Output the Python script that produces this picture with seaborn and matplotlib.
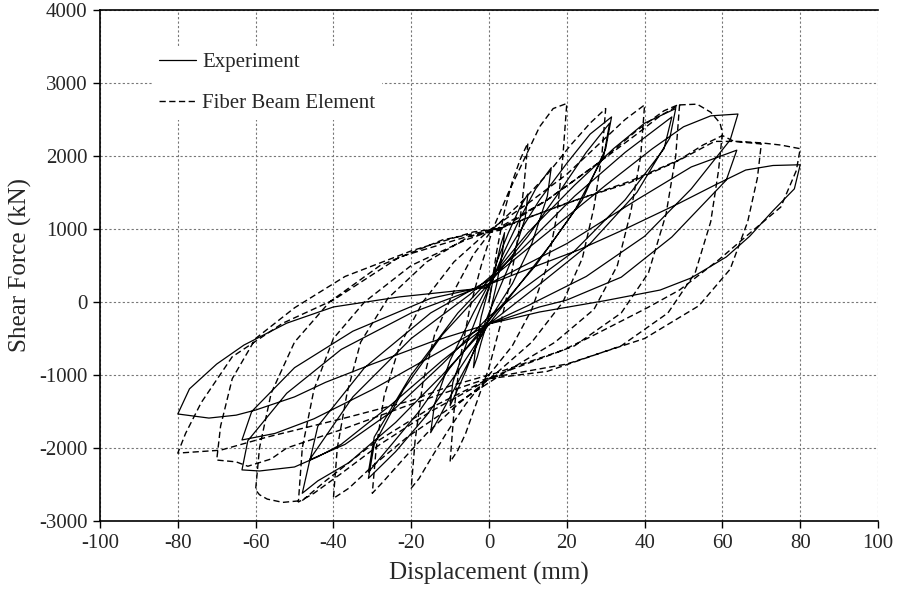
import matplotlib
matplotlib.use("Agg")
import matplotlib.pyplot as plt
import seaborn as sns
import numpy as np

# ---------------- data ----------------
exp_disp = [0, 1, 2, 3, 4,
            3.5, 2, 0, -2, -3, -4,
            -3.5, -2, 0, 2, 5, 8, 10,
            9.3, 6, 2, 0, -3, -6, -8.5, -10,
            -9.3, -6, -2, 0, 4, 8, 12, 16,
            15, 11, 6, 0, -5, -10, -13, -15,
            -14, -10, -4, 0, 6, 13, 20, 26, 31.5,
            30, 24, 16, 8, 0, -8, -16, -24, -31,
            -29.5, -22, -12, 0, 10, 18, 25, 31,
            29.5, 22, 12, 0, -10, -18, -25, -31,
            -29.5, -20, -8, 0, 10, 22, 32, 40, 48,
            46.5, 38, 26, 12, 0, -12, -24, -36, -44, -48,
            -46, -35, -20, -5, 8, 22, 35, 47,
            45, 35, 22, 8, 0, -12, -25, -37, -46,
            -44, -32, -15, 0, 15, 30, 42, 50, 57, 64,
            62, 52, 40, 25, 10, 0, -12, -25, -38, -44, -50, -59, -63.5,
            -62, -52, -38, -20, 0, 20, 38, 52, 63.7,
            61, 47, 34, 20, 13, 0, -15, -30, -45, -55, -63.5,
            -61, -50, -35, -15, -2, 10, 23, 35, 49, 58, 66, 73, 80,
            78.5, 73, 67, 61, 52, 44, 30, 13, 0, -15, -30, -42, -50, -60, -65, -72, -80,
            -77, -70, -63, -52, -40, -23, -6, 0]
exp_force = [0, 300, 550, 780, 950,
             700, 250, -200, -550, -750, -900,
             -650, -200, 200, 550, 950, 1300, 1480,
             1150, 600, 100, -150, -550, -950, -1250, -1420,
             -1100, -600, -50, 200, 700, 1150, 1550, 1840,
             1450, 800, 250, -250, -800, -1300, -1600, -1790,
             -1400, -800, -150, 250, 800, 1400, 1900, 2300, 2535,
             2100, 1400, 800, 250, -300, -950, -1550, -2050, -2416,
             -1950, -1200, -450, 250, 900, 1500, 2050, 2450,
             2000, 1250, 500, -250, -900, -1500, -1950, -2330,
             -1850, -1000, -150, 300, 950, 1600, 2100, 2450, 2650,
             2250, 1500, 800, 200, -300, -1000, -1650, -2200, -2450, -2620,
             -2150, -1300, -500, 100, 700, 1450, 2050, 2535,
             2100, 1400, 700, 150, -200, -850, -1500, -1950, -2160,
             -1700, -900, -150, 300, 950, 1600, 2100, 2400, 2550, 2575,
             2220, 1550, 900, 350, -50, -300, -800, -1400, -1950, -2120, -2260, -2315, -2300,
             -1900, -1250, -650, -150, 250, 800, 1400, 1850, 2080,
             1670, 890, 340, 27, -68, -300, -750, -1200, -1600, -1800, -1890,
             -1500, -900, -400, 50, 200, 450, 712, 1000, 1356, 1600, 1808, 1870, 1880,
             1550, 1250, 900, 617, 330, 164, 20, -137, -300, -550, -850, -1100, -1300, -1480, -1550, -1590, -1534,
             -1190, -850, -590, -290, -68, 70, 165, 200]

fib_disp = [0, 2, 4, 6, 8, 10,
            9, 7.5, 5.5, 3, 0, -2, -4, -6, -8, -10,
            -9, -7.5, -5, -2, 1, 5, 9, 13, 16.5, 20,
            19, 17.5, 15, 11, 6, 0, -6, -11, -15, -18, -20,
            -19, -17, -14, -9, -4, 1, 8, 15, 21, 26, 30,
            29, 27, 24, 19, 11, 2, -8, -16, -22, -27, -30,
            -29, -27, -23, -17, -9, 0, 10, 20, 28, 35, 40,
            39, 36.5, 33, 27, 17, 3, -10, -21, -30, -36, -40,
            -39, -36.5, -33, -26, -16, -5, 3, 15, 28, 38, 45, 49,
            48, 45.5, 41, 34, 22, 2, -15, -28, -38, -45, -49,
            -48, -45, -40, -32, -20, -6, 2, 15, 28, 38, 44, 49, 53.5, 57, 59.4, 60,
            59, 57, 53, 46, 34, 15, 0, -15, -30, -42, -48, -53, -57, -59, -60,
            -59, -56, -50, -41, -28, -12, 2, 20, 36, 49, 55, 60, 63, 70,
            69, 66.5, 62, 54, 40, 20, 0, -20, -38, -52, -56, -62, -65, -70,
            -69, -66, -60, -50, -37, -20, -4, 3, 20, 36, 49, 58, 64, 70, 75, 80,
            79, 75, 68, 59, 49, 40.6, 26, 19, 2, -10, -20, -36, -57, -69, -80,
            -78, -74, -66, -53, -40, -23, -6, 3]
fib_force = [0, 700, 1250, 1650, 1950, 2180,
             1600, 900, 300, -300, -900, -1200, -1500, -1800, -2030, -2190,
             -1500, -800, -100, 500, 1000, 1500, 1950, 2400, 2650, 2720,
             2000, 1200, 500, -100, -600, -1000, -1400, -1800, -2150, -2420, -2550,
             -1900, -1100, -450, 150, 650, 1000, 1350, 1750, 2150, 2450, 2650,
             2000, 1300, 600, 0, -550, -970, -1400, -1800, -2150, -2450, -2620,
             -2000, -1300, -600, 0, 550, 980, 1350, 1750, 2150, 2500, 2700,
             2000, 1250, 500, -100, -550, -1000, -1450, -1850, -2250, -2550, -2690,
             -2000, -1250, -550, 50, 550, 900, 1000, 1400, 1900, 2350, 2620, 2710,
             2000, 1200, 400, -150, -600, -1000, -1500, -1950, -2350, -2620, -2740,
             -2000, -1200, -500, 0, 500, 850, 1000, 1400, 1900, 2300, 2550, 2700, 2710, 2600, 2450, 2315,
             1800, 1100, 400, -150, -600, -950, -1050, -1450, -1950, -2450, -2720, -2745, -2700, -2640, -2575,
             -2000, -1250, -550, 0, 500, 850, 1000, 1350, 1650, 1950, 2150, 2280, 2200, 2165,
             1700, 1100, 450, -50, -500, -850, -1040, -1400, -1750, -2000, -2150, -2250, -2190, -2165,
             -1700, -1050, -500, -80, 350, 700, 960, 1010, 1356, 1630, 1945, 2200, 2200, 2180, 2150, 2100,
             1800, 1300, 986, 575, 165, -82, -480, -660, -970, -1150, -1350, -1575, -1850, -2030, -2070,
             -1800, -1380, -750, -290, 27, 616, 890, 986]

x_ticks = [-100, -80, -60, -40, -20, 0, 20, 40, 60, 80, 100]
y_ticks = [-3000, -2000, -1000, 0, 1000, 2000, 3000, 4000]
series_names = ["Experiment", "Fiber Beam Element"]

# ---------------- figure ----------------
sns.set_style("white")
plt.rcParams["font.family"] = ["Liberation Serif", "DejaVu Serif"]
plt.rcParams["axes.unicode_minus"] = False

fig = plt.figure(figsize=(8.98, 6.05), dpi=100)
ax = fig.add_axes([100 / 898, 1 - 521 / 605, 778 / 898, 511 / 605])

sns.lineplot(x=exp_disp, y=exp_force, sort=False, estimator=None, ax=ax,
             color="black", lw=0.9, label=series_names[0])
sns.lineplot(x=fib_disp, y=fib_force, sort=False, estimator=None, ax=ax,
             color="black", lw=1.0, label=series_names[1], linestyle=(0, (4.5, 2.5)))

ax.set_xlim(-100, 100)
ax.set_ylim(-3000, 4000)
ax.set_xticks(x_ticks)
ax.set_yticks(y_ticks)
ax.grid(True, color="#777777", linestyle=(0, (2, 2)), lw=0.8)
ax.set_axisbelow(True)

for s in ["left", "bottom", "top"]:
    ax.spines[s].set_color("black")
    ax.spines[s].set_linewidth(1.2)
ax.spines["right"].set_visible(False)

ax.tick_params(axis="both", direction="out", length=5, width=1, color="black",
               labelsize=15, pad=4, bottom=True, left=True)
ax.set_xlabel("Displacement (mm)", fontsize=18, labelpad=7)
ax.set_ylabel("Shear Force (kN)", fontsize=18, labelpad=5)

leg = ax.legend(loc="upper left", bbox_to_anchor=(0.055, 0.95), fontsize=15,
                frameon=True, facecolor="white", edgecolor="none", framealpha=1,
                handlelength=1.75, handletextpad=0.3, labelspacing=1.05,
                borderpad=0.3, fancybox=False)

fig.savefig("out.png", dpi=100)
